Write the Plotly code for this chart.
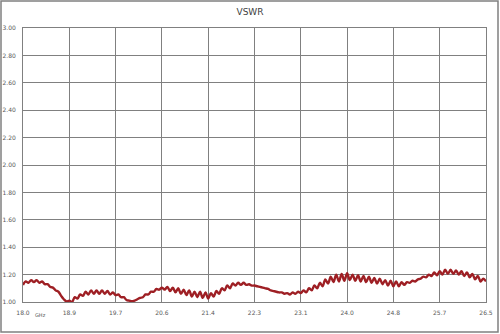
import plotly.graph_objects as go

freq_ghz = [
    18.00, 18.05, 18.10, 18.15, 18.20, 18.25, 18.30, 18.35, 18.40, 18.45,
    18.50, 18.55, 18.60, 18.65, 18.70, 18.75, 18.80, 18.85, 18.90, 18.95,
    19.00, 19.05, 19.10, 19.15, 19.20, 19.25, 19.30, 19.35, 19.40, 19.45,
    19.50, 19.55, 19.60, 19.65, 19.70, 19.75, 19.80, 19.85, 19.90, 19.95,
    20.00, 20.05, 20.10, 20.15, 20.20, 20.25, 20.30, 20.35, 20.40, 20.45,
    20.50, 20.55, 20.60, 20.65, 20.70, 20.75, 20.80, 20.85, 20.90, 20.95,
    21.00, 21.05, 21.10, 21.15, 21.20, 21.25, 21.30, 21.35, 21.40, 21.45,
    21.50, 21.55, 21.60, 21.65, 21.70, 21.75, 21.80, 21.85, 21.90, 21.95,
    22.00, 22.05, 22.10, 22.15, 22.20, 22.25, 22.30, 22.35, 22.40, 22.45,
    22.50, 22.55, 22.60, 22.65, 22.70, 22.75, 22.80, 22.85, 22.90, 22.95,
    23.00, 23.05, 23.10, 23.15, 23.20, 23.25, 23.30, 23.35, 23.40, 23.45,
    23.50, 23.55, 23.60, 23.65, 23.70, 23.75, 23.80, 23.85, 23.90, 23.95,
    24.00, 24.05, 24.10, 24.15, 24.20, 24.25, 24.30, 24.35, 24.40, 24.45,
    24.50, 24.55, 24.60, 24.65, 24.70, 24.75, 24.80, 24.85, 24.90, 24.95,
    25.00, 25.05, 25.10, 25.15, 25.20, 25.25, 25.30, 25.35, 25.40, 25.45,
    25.50, 25.55, 25.60, 25.65, 25.70, 25.75, 25.80, 25.85, 25.90, 25.95,
    26.00, 26.05, 26.10, 26.15, 26.20, 26.25, 26.30, 26.35, 26.40, 26.45,
    26.50,
]

vswr = [
    1.125, 1.150, 1.140, 1.160, 1.145, 1.160, 1.140, 1.150, 1.130, 1.130,
    1.110, 1.105, 1.085, 1.075, 1.045, 1.020, 1.005, 1.010, 1.000, 1.035,
    1.025, 1.055, 1.045, 1.075, 1.055, 1.085, 1.060, 1.085, 1.060, 1.085,
    1.060, 1.080, 1.055, 1.070, 1.050, 1.055, 1.035, 1.035, 1.015, 1.010,
    1.005, 1.010, 1.020, 1.030, 1.035, 1.055, 1.055, 1.075, 1.075, 1.095,
    1.090, 1.105, 1.090, 1.110, 1.080, 1.105, 1.070, 1.100, 1.060, 1.090,
    1.050, 1.085, 1.040, 1.075, 1.035, 1.075, 1.030, 1.070, 1.025, 1.065,
    1.040, 1.080, 1.060, 1.100, 1.085, 1.120, 1.100, 1.135, 1.120, 1.140,
    1.125, 1.140, 1.125, 1.130, 1.120, 1.120, 1.115, 1.110, 1.105, 1.100,
    1.095, 1.085, 1.080, 1.075, 1.070, 1.070, 1.060, 1.065, 1.055, 1.070,
    1.060, 1.075, 1.065, 1.085, 1.070, 1.100, 1.085, 1.120, 1.100, 1.140,
    1.115, 1.165, 1.135, 1.185, 1.145, 1.200, 1.150, 1.205, 1.155, 1.210,
    1.160, 1.200, 1.155, 1.195, 1.150, 1.190, 1.145, 1.185, 1.140, 1.175,
    1.135, 1.170, 1.130, 1.160, 1.120, 1.155, 1.115, 1.150, 1.115, 1.145,
    1.125, 1.145, 1.140, 1.155, 1.150, 1.165, 1.170, 1.185, 1.180, 1.200,
    1.190, 1.215, 1.195, 1.225, 1.200, 1.235, 1.205, 1.235, 1.205, 1.230,
    1.200, 1.225, 1.190, 1.215, 1.180, 1.205, 1.165, 1.190, 1.150, 1.170,
    1.150,
]

x_tick_vals = [18.0, 18.85, 19.7, 20.55, 21.4, 22.25, 23.1, 23.95, 24.8, 25.65, 26.5]
x_tick_text = ["18.0", "18.9", "19.7", "20.6", "21.4", "22.3", "23.1", "24.0", "24.8", "25.7", "26.5"]
y_tick_vals = [1.0, 1.2, 1.4, 1.6, 1.8, 2.0, 2.2, 2.4, 2.6, 2.8, 3.0]
y_tick_text = ["1.00", "1.20", "1.40", "1.60", "1.80", "2.00", "2.20", "2.40", "2.60", "2.80", "3.00"]

grid_c = "#808080"
label_c = "#595959"
font_f = "DejaVu Sans"

fig = go.Figure()
fig.add_trace(go.Scatter(
    x=freq_ghz, y=vswr, mode="lines",
    line=dict(color="#9E1F24", width=2.4, shape="spline", smoothing=1.0),
    showlegend=False,
))

fig.update_layout(
    width=500, height=334,
    margin=dict(l=23, r=14, t=28, b=32, autoexpand=False),
    paper_bgcolor="white", plot_bgcolor="white",
    title=dict(text="VSWR", x=0.5, xanchor="center", y=1 - 12 / 334, yanchor="middle",
               font=dict(family=font_f, size=9, color="#404040")),
    xaxis=dict(range=[18.0, 26.5], tickmode="array", tickvals=x_tick_vals, ticktext=x_tick_text,
               showgrid=True, gridcolor=grid_c, gridwidth=1, showline=True, linecolor=grid_c,
               linewidth=1, mirror=True, zeroline=False, ticks="", automargin=False,
               tickfont=dict(family=font_f, size=6, color=label_c), ticklabelstandoff=5),
    yaxis=dict(range=[1.0, 3.0], tickmode="array", tickvals=y_tick_vals, ticktext=y_tick_text,
               showgrid=True, gridcolor=grid_c, gridwidth=1, showline=True, linecolor=grid_c,
               linewidth=1, mirror=True, zeroline=False, ticks="", automargin=False,
               tickfont=dict(family=font_f, size=6, color=label_c), ticklabelstandoff=5),
)

# outer chart border
fig.add_shape(type="rect", xref="paper", yref="paper",
              x0=(1 - 23) / 463, x1=(498 - 23) / 463,
              y0=(302 - 332) / 274, y1=(302 - 1) / 274,
              line=dict(color=grid_c, width=1.5), fillcolor="rgba(0,0,0,0)", layer="below")

fig.add_annotation(text="GHz", xref="paper", yref="paper",
                   x=(40 - 23) / 463, y=(302 - 315) / 274, showarrow=False,
                   xanchor="center", yanchor="middle",
                   font=dict(family=font_f, size=5, color=label_c))

fig.write_html("out.html", config={"displayModeBar": False},
               post_script="document.body.style.margin='0px';document.body.style.padding='0px';")
